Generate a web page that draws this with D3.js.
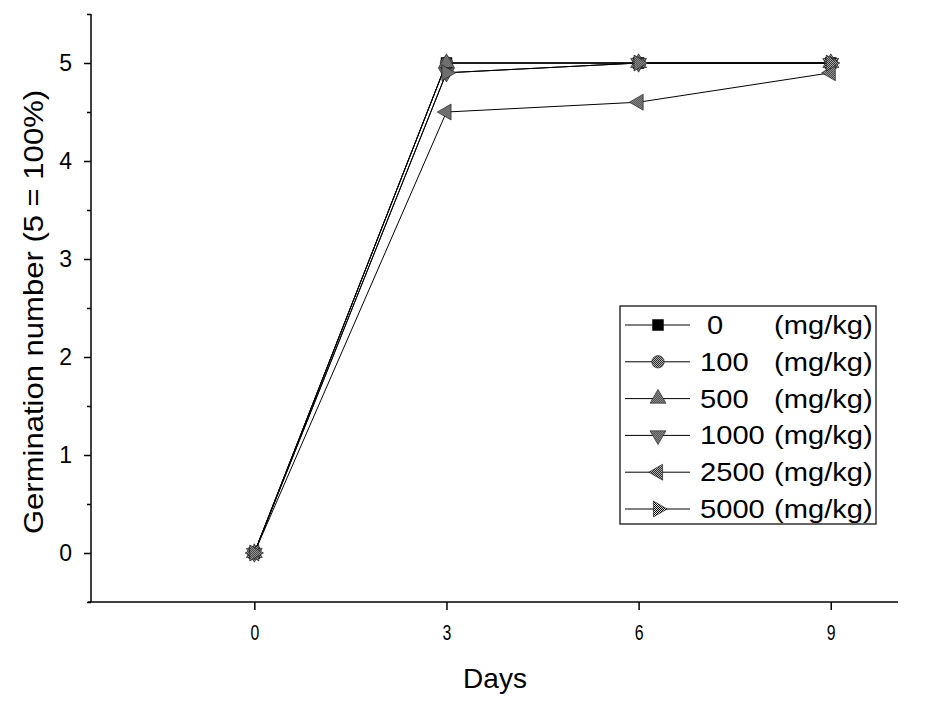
<!DOCTYPE html>
<html>
<head>
<meta charset="utf-8">
<script src="https://cdn.jsdelivr.net/npm/d3@7"></script>
<style>
  body { margin: 0; background: #fff; }
  text { font-family: "Liberation Sans", Arial, sans-serif; fill: #000; }
</style>
</head>
<body>
<svg id="chart" width="949" height="716"></svg>
<script>
// data
var days = [0, 3, 6, 9];
var doses = ["0", "100", "500", "1000", "2500", "5000"];
var dose0 = [0, 5, 5, 5];
var dose100 = [0, 5, 5, 5];
var dose500 = [0, 5, 5, 5];
var dose1000 = [0, 4.9, 5, 5];
var dose2500 = [0, 4.5, 4.6, 4.9];
var dose5000 = [0, 4.9, 5, 5];
var yTicks = [0, 1, 2, 3, 4, 5];
var yMinor = [-0.5, 0.5, 1.5, 2.5, 3.5, 4.5, 5.5];

var seriesValues = [dose0, dose100, dose500, dose1000, dose2500, dose5000];
var series = doses.map(function (d, i) {
  return { name: d, values: seriesValues[i] };
});

var svg = d3.select("#chart");

// checker fill like the original dithered markers
var defs = svg.append("defs");
var pat = defs.append("pattern")
  .attr("id", "dither")
  .attr("width", 2).attr("height", 2)
  .attr("patternUnits", "userSpaceOnUse");
pat.append("rect").attr("width", 2).attr("height", 2).attr("fill", "#ddd");
pat.append("rect").attr("width", 1).attr("height", 1).attr("fill", "#000");
pat.append("rect").attr("x", 1).attr("y", 1).attr("width", 1).attr("height", 1).attr("fill", "#000");

var x = d3.scaleLinear().domain([-2.55, 10.05]).range([91, 898]);
var y = d3.scaleLinear().domain([-0.5, 5.5]).range([602, 14]);

// marker shapes: square, circle, up, down, left, right triangles
var shapes = [
  { type: d3.symbolSquare, size: 120, rot: 0, fill: "#000" },
  { type: d3.symbolCircle, size: 120, rot: 0, fill: "url(#dither)" },
  { type: d3.symbolTriangle, size: 110, rot: 0, fill: "url(#dither)" },
  { type: d3.symbolTriangle, size: 110, rot: 180, fill: "url(#dither)" },
  { type: d3.symbolTriangle, size: 110, rot: -90, fill: "url(#dither)" },
  { type: d3.symbolTriangle, size: 110, rot: 90, fill: "url(#dither)" }
];

// axes
var xAxis = svg.append("g")
  .attr("transform", "translate(0,602)")
  .call(d3.axisBottom(x).tickValues(days).tickSize(8).tickPadding(14).tickFormat(d3.format("d")));
xAxis.select(".domain").attr("d", "M88,0H898").attr("stroke-width", 1.5);
xAxis.selectAll(".tick line").attr("stroke-width", 1.5);
xAxis.selectAll(".tick text")
  .style("font-size", "22px")
  .attr("transform", "scale(0.72,1)");

var yAxis = svg.append("g")
  .attr("transform", "translate(91,0)")
  .call(d3.axisLeft(y).tickValues(yTicks).tickSize(7).tickPadding(12).tickFormat(d3.format("d")));
yAxis.select(".domain").attr("d", "M0,14V602").attr("stroke-width", 1.5);
yAxis.selectAll(".tick line").attr("stroke-width", 1.5);
yAxis.selectAll(".tick text").style("font-size", "23px");

svg.append("g")
  .attr("transform", "translate(91,0)")
  .call(d3.axisLeft(y).tickValues(yMinor).tickSize(4).tickFormat(""))
  .call(function (g) { g.select(".domain").remove(); })
  .selectAll(".tick line").attr("stroke-width", 1.5);

svg.append("text")
  .attr("x", 495).attr("y", 688)
  .attr("text-anchor", "middle")
  .style("font-size", "28px")
  .text("Days");

svg.append("text")
  .attr("transform", "translate(43,312) rotate(-90) scale(1.15,1)")
  .attr("text-anchor", "middle")
  .style("font-size", "27px")
  .text("Germination number (5 = 100%)");

// lines
var line = d3.line()
  .x(function (d, i) { return x(days[i]); })
  .y(function (d) { return y(d); });

svg.append("g").selectAll("path")
  .data(series)
  .enter()
  .append("path")
  .attr("fill", "none")
  .attr("stroke", "#000")
  .attr("stroke-width", 1)
  .attr("d", function (d) { return line(d.values); });

// markers
series.forEach(function (s, k) {
  var sh = shapes[k];
  svg.append("g").selectAll("path")
    .data(s.values)
    .enter()
    .append("path")
    .attr("d", d3.symbol().type(sh.type).size(sh.size))
    .attr("transform", function (d, i) {
      return "translate(" + x(days[i]) + "," + y(d) + ") rotate(" + sh.rot + ")";
    })
    .attr("fill", sh.fill)
    .attr("stroke", "#111")
    .attr("stroke-width", 0.6);
});

// legend
var legend = svg.append("g");
legend.append("rect")
  .attr("x", 620).attr("y", 306)
  .attr("width", 256).attr("height", 218)
  .attr("fill", "#fff")
  .attr("stroke", "#000")
  .attr("stroke-width", 1.2);

var rows = legend.selectAll("g.row")
  .data(series)
  .enter()
  .append("g")
  .attr("class", "row")
  .attr("transform", function (d, i) { return "translate(0," + (325 + i * 36.8) + ")"; });

rows.append("line")
  .attr("x1", 625).attr("x2", 690)
  .attr("stroke", "#000");

rows.append("path")
  .attr("d", function (d, i) { return d3.symbol().type(shapes[i].type).size(shapes[i].size)(); })
  .attr("transform", function (d, i) { return "translate(658,0) rotate(" + shapes[i].rot + ")"; })
  .attr("fill", function (d, i) { return shapes[i].fill; })
  .attr("stroke", "#111")
  .attr("stroke-width", 0.6);

rows.append("text")
  .attr("transform", function (d) {
    return "translate(" + (d.name === "0" ? 707 : 700) + ",9) scale(1.12,1)";
  })
  .style("font-size", "26px")
  .text(function (d) { return d.name; });

rows.append("text")
  .attr("transform", "translate(774,9) scale(1.12,1)")
  .style("font-size", "26px")
  .text("(mg/kg)");
</script>
</body>
</html>
